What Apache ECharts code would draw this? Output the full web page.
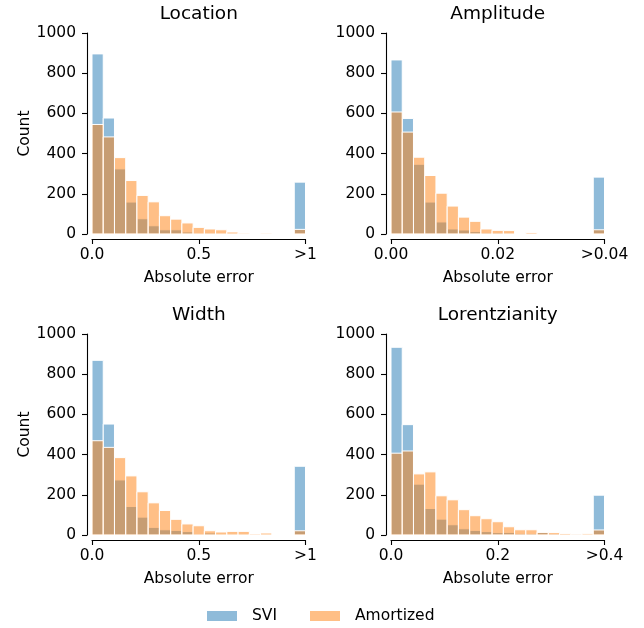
<!DOCTYPE html>
<html>
<head>
<meta charset="utf-8">
<title>Absolute error histograms</title>
<script src="https://cdn.jsdelivr.net/npm/echarts@6/dist/echarts.min.js"></script>
<style>
html, body { margin: 0; padding: 0; background: #fff; }
#main { width: 644px; height: 628px; }
</style>
</head>
<body>
<div id="main"></div>
<script type="text/javascript">
// 19 bins between 0 and the clip value, last bin also holds everything above it
var panelTitles = ['Location', 'Amplitude', 'Width', 'Lorentzianity'];
var clipMax = [1, 0.04, 1, 0.4];
var tickStep = [0.5, 0.02, 0.5, 0.2];
var locTicks = ['0.0', '0.5', '>1'];
var ampTicks = ['0.00', '0.02', '>0.04'];
var widTicks = ['0.0', '0.5', '>1'];
var lorTicks = ['0.0', '0.2', '>0.4'];
var seriesNames = ['SVI', 'Amortized'];

var locSvi = [896, 577, 324, 159, 76, 41, 21, 21, 10, 3, 1, 0, 0, 0, 0, 0, 0, 0, 258];
var locAmo = [545, 483, 380, 266, 192, 160, 91, 74, 55, 33, 25, 21, 10, 4, 0, 4, 0, 0, 23];
var ampSvi = [866, 575, 347, 159, 60, 25, 20, 12, 5, 5, 0, 0, 0, 0, 0, 0, 0, 0, 283];
var ampAmo = [607, 507, 382, 291, 203, 139, 84, 63, 25, 18, 17, 0, 7, 0, 0, 0, 0, 0, 21];
var widSvi = [869, 552, 274, 142, 89, 38, 26, 23, 17, 3, 10, 2, 0, 0, 0, 0, 0, 0, 342];
var widAmo = [469, 436, 385, 294, 215, 160, 122, 78, 55, 46, 21, 15, 18, 18, 5, 10, 0, 0, 21];
var lorSvi = [934, 549, 253, 132, 79, 51, 31, 23, 17, 12, 13, 8, 7, 12, 5, 2, 5, 0, 198];
var lorAmo = [407, 418, 304, 314, 195, 175, 126, 96, 81, 66, 41, 26, 26, 13, 12, 7, 4, 6, 25];

var sviColor = 'rgba(31,119,180,0.5)';
var amoColor = 'rgba(255,127,14,0.5)';
var font = 'DejaVu Sans';

var panelSvi = [locSvi, ampSvi, widSvi, lorSvi];
var panelAmo = [locAmo, ampAmo, widAmo, lorAmo];
var panelTicks = [locTicks, ampTicks, widTicks, lorTicks];

var gridLeft = [92, 391, 92, 391];
var gridTop = [33, 33, 334, 334];
var gridW = 213.5, gridH = 201;

function toBins(counts, max) {
    var w = max / counts.length;
    var out = [];
    for (var i = 0; i < counts.length; i++) {
        out.push([i * w, (i + 1) * w, counts[i]]);
    }
    return out;
}

function barItem(color) {
    return function (params, api) {
        var c = api.value(2);
        if (!c) return null;
        var p0 = api.coord([api.value(0), c]);
        var p1 = api.coord([api.value(1), 0]);
        return {
            type: 'rect',
            shape: { x: p0[0], y: p0[1], width: p1[0] - p0[0], height: p1[1] - p0[1] },
            style: { fill: color, stroke: '#fff', lineWidth: 1 }
        };
    };
}

var grids = [], xAxes = [], yAxes = [], titles = [], series = [];
for (var i = 0; i < 4; i++) {
    grids.push({ left: gridLeft[i], top: gridTop[i], width: gridW, height: gridH });
    titles.push({
        text: panelTitles[i], left: gridLeft[i] + gridW / 2, top: gridTop[i] - 28,
        textAlign: 'center', textVerticalAlign: 'top', padding: 0,
        textStyle: { fontSize: 18.5, fontWeight: 'normal', color: '#000', fontFamily: font }
    });
    (function (k) {
        xAxes.push({
            gridIndex: k, type: 'value', min: 0, max: clipMax[k], interval: tickStep[k], offset: 5,
            axisLine: { show: true, onZero: false, lineStyle: { color: '#000', width: 1.1 } },
            axisTick: { show: true, length: 5, lineStyle: { color: '#000', width: 1.1 } },
            splitLine: { show: false },
            axisLabel: {
                margin: 8, color: '#000', fontSize: 15.5, fontFamily: font,
                showMinLabel: true, showMaxLabel: true,
                formatter: function (v) { return panelTicks[k][Math.round(v / tickStep[k])]; }
            },
            name: 'Absolute error', nameLocation: 'middle', nameGap: 31,
            nameTextStyle: { color: '#000', fontSize: 15.5, fontFamily: font }
        });
    })(i);
    yAxes.push({
        gridIndex: i, type: 'value', min: 0, max: 1000, interval: 200, offset: 5,
        axisLine: { show: true, onZero: false, lineStyle: { color: '#000', width: 1.1 } },
        axisTick: { show: true, length: 5, lineStyle: { color: '#000', width: 1.1 } },
        splitLine: { show: false },
        axisLabel: {
            margin: 11, color: '#000', fontSize: 15.5, fontFamily: font,
            formatter: function (v) { return String(v); }
        },
        name: (i % 2 === 0) ? 'Count' : '', nameLocation: 'middle', nameGap: 54,
        nameTextStyle: { color: '#000', fontSize: 15.5, fontFamily: font }
    });
    series.push({
        type: 'custom', name: seriesNames[0], xAxisIndex: i, yAxisIndex: i,
        itemStyle: { color: sviColor }, encode: { x: [0, 1], y: 2 },
        renderItem: barItem(sviColor), data: toBins(panelSvi[i], clipMax[i])
    });
    series.push({
        type: 'custom', name: seriesNames[1], xAxisIndex: i, yAxisIndex: i,
        itemStyle: { color: amoColor }, encode: { x: [0, 1], y: 2 },
        renderItem: barItem(amoColor), data: toBins(panelAmo[i], clipMax[i])
    });
}

var myChart = echarts.init(document.getElementById('main'));
myChart.setOption({
    animation: false,
    backgroundColor: '#fff',
    title: titles,
    legend: {
        data: seriesNames, left: 207, top: 608, padding: 0, icon: 'rect',
        itemWidth: 30, itemHeight: 10, itemGap: 33,
        itemStyle: { borderWidth: 0 },
        textStyle: { color: '#000', fontSize: 15.5, fontFamily: font, padding: [0, 0, 0, 10] }
    },
    grid: grids,
    xAxis: xAxes,
    yAxis: yAxes,
    series: series
});
</script>
</body>
</html>
